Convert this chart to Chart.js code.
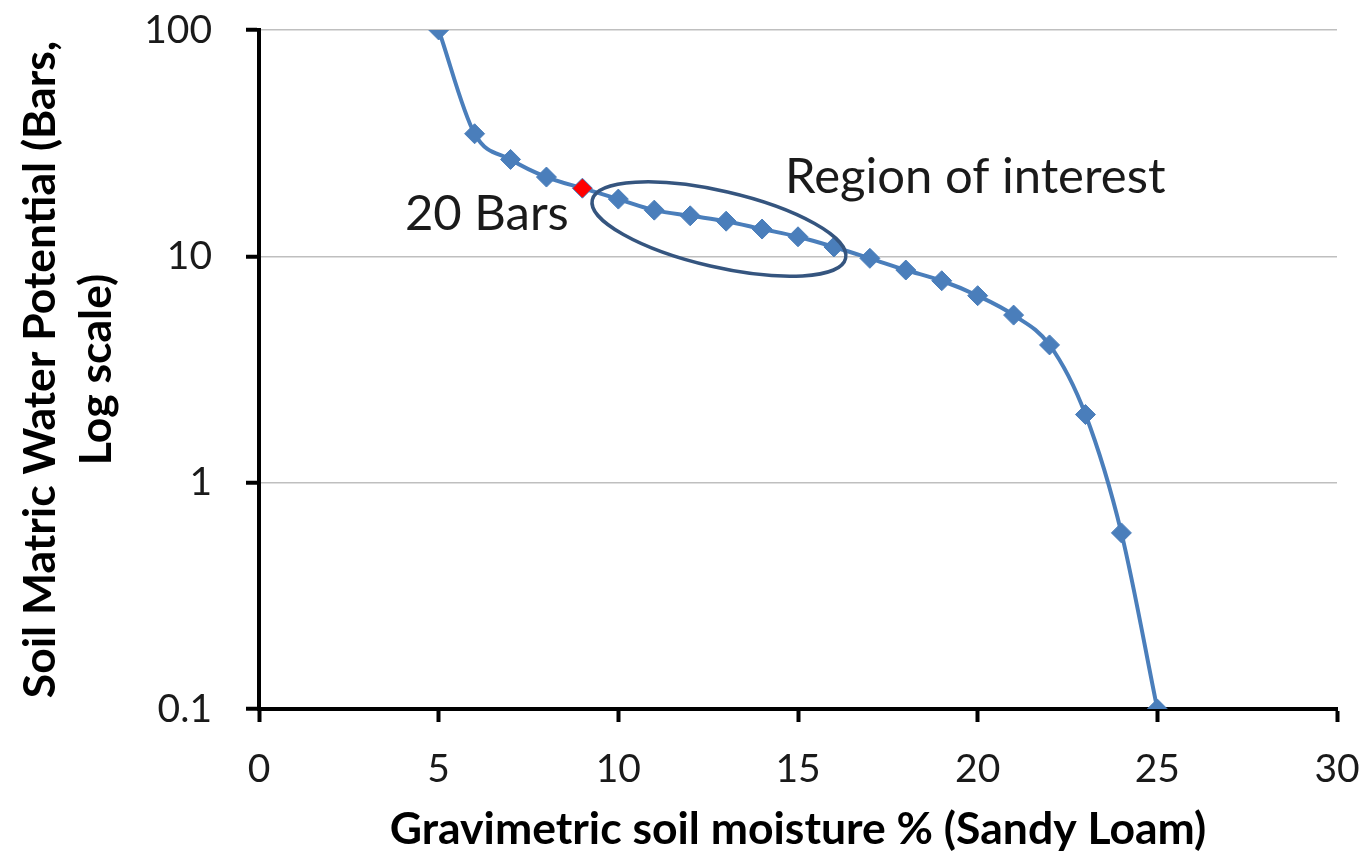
<!DOCTYPE html>
<html>
<head>
<meta charset="utf-8">
<script src="https://cdn.jsdelivr.net/npm/chart.js@4/dist/chart.umd.min.js"></script>
<style>
  html, body { margin: 0; padding: 0; background: #ffffff; }
  #wrap { width: 1363px; height: 863px; }
</style>
</head>
<body>
<div id="wrap"><canvas id="c" width="1363" height="863"></canvas></div>
<script>
// ---- data ----
const moisture = [5, 6, 7, 8, 9, 10, 11, 12, 13, 14, 15, 16, 17, 18, 19, 20, 21, 22, 23, 24, 25];
const potential = [100, 34.8, 26.8, 22.4, 20, 17.9, 16.0, 15.1, 14.3, 13.2, 12.2, 11.0, 9.8, 8.7, 7.8, 6.7, 5.5, 4.06, 2.0, 0.6, 0.1];
const highlightX = [9];
const highlightY = [20];
const xTicks = [0, 5, 10, 15, 20, 25, 30];
const yTicks = [0.1, 1, 10, 100];
const yTickLabels = ['0.1', '1', '10', '100'];
const xTitle = 'Gravimetric soil moisture % (Sandy Loam)';
const yTitle = ['Soil Matric Water Potential (Bars,', 'Log scale)'];
const highlightLabel = '20 Bars';
const regionLabel = 'Region of interest';
// annotation anchors in data units (text anchors are baseline-left)
const regionCenter = { x: 12.8, y: 13.2 };
const regionLabelAt = { x: 14.64, y: 19.05 };
const highlightLabelAt = { x: 4.06, y: 13.06 };

const FONT = 'Lato, "Open Sans", sans-serif';
const blue = '#4a7ebb';

const annotationPlugin = {
  id: 'annot',
  afterDatasetsDraw(chart) {
    const { ctx, scales } = chart;
    const xs = scales.x, ys = scales.y;
    ctx.save();
    // ellipse
    const cx = xs.getPixelForValue(regionCenter.x);
    const cy = ys.getPixelForValue(regionCenter.y);
    ctx.beginPath();
    ctx.ellipse(cx, cy, 130, 38, 13 * Math.PI / 180, 0, Math.PI * 2);
    ctx.strokeStyle = '#35557f';
    ctx.lineWidth = 3.5;
    ctx.stroke();
    // texts
    ctx.fillStyle = '#1a1a1a';
    ctx.textBaseline = 'alphabetic';
    ctx.textAlign = 'left';
    ctx.font = '49px ' + FONT;
    ctx.fillText(regionLabel, xs.getPixelForValue(regionLabelAt.x), ys.getPixelForValue(regionLabelAt.y));
    ctx.fillText(highlightLabel, xs.getPixelForValue(highlightLabelAt.x), ys.getPixelForValue(highlightLabelAt.y));
    ctx.restore();
  }
};

new Chart(document.getElementById('c'), {
  type: 'line',
  data: {
    datasets: [
      {
        label: '20 Bars',
        data: highlightX.map((x, i) => ({ x, y: highlightY[i] })),
        showLine: false,
        pointStyle: 'rectRot',
        pointRadius: 9,
        pointBackgroundColor: '#ff0000',
        pointBorderColor: '#ff0000',
        pointBorderWidth: 1,
        order: 0
      },
      {
        label: 'Sandy Loam',
        data: moisture.map((x, i) => ({ x, y: potential[i] })),
        borderColor: blue,
        borderWidth: 4,
        cubicInterpolationMode: 'monotone',
        pointStyle: 'rectRot',
        pointRadius: 10,
        pointBackgroundColor: blue,
        pointBorderColor: blue,
        pointBorderWidth: 1,
        fill: false,
        order: 1
      }
    ]
  },
  options: {
    responsive: false,
    animation: false,
    devicePixelRatio: 1,
    layout: { padding: { top: 30, right: 26, bottom: 0, left: 0 } },
    plugins: { legend: { display: false }, tooltip: { enabled: false } },
    scales: {
      x: {
        type: 'linear',
        min: 0, max: 30,
        afterBuildTicks(scale) { scale.ticks = xTicks.map(v => ({ value: v })); },
        afterFit(scale) { scale.height = 154; scale.paddingLeft = 0; scale.paddingRight = 0; },
        grid: { drawOnChartArea: false, tickLength: 13, tickWidth: 4, tickColor: '#000' },
        border: { display: true, color: '#000', width: 4 },
        ticks: { color: '#1a1a1a', font: { family: FONT, size: 39 }, padding: 24, maxRotation: 0 },
        title: { display: true, text: xTitle, color: '#000', font: { family: FONT, size: 44.5, weight: 'bold' }, padding: { top: 0, bottom: 7 } }
      },
      y: {
        type: 'logarithmic',
        min: 0.1, max: 100,
        afterBuildTicks(scale) { scale.ticks = yTicks.map(v => ({ value: v })); },
        afterFit(scale) { scale.width = 259; scale.paddingTop = 0; scale.paddingBottom = 0; },
        grid: { color: '#bfbfbf', lineWidth: 1.5, tickLength: 13, tickWidth: 4, tickColor: '#000' },
        border: { display: true, color: '#000', width: 4 },
        ticks: {
          color: '#1a1a1a', font: { family: FONT, size: 39 }, padding: 34,
          callback(v) { const i = yTicks.indexOf(v); return i >= 0 ? yTickLabels[i] : ''; }
        },
        title: { display: true, text: yTitle, color: '#000', font: { family: FONT, size: 44.5, weight: 'bold', lineHeight: 1.25 }, padding: { top: 13, bottom: 0 } }
      }
    }
  },
  plugins: [annotationPlugin]
});
</script>
</body>
</html>
